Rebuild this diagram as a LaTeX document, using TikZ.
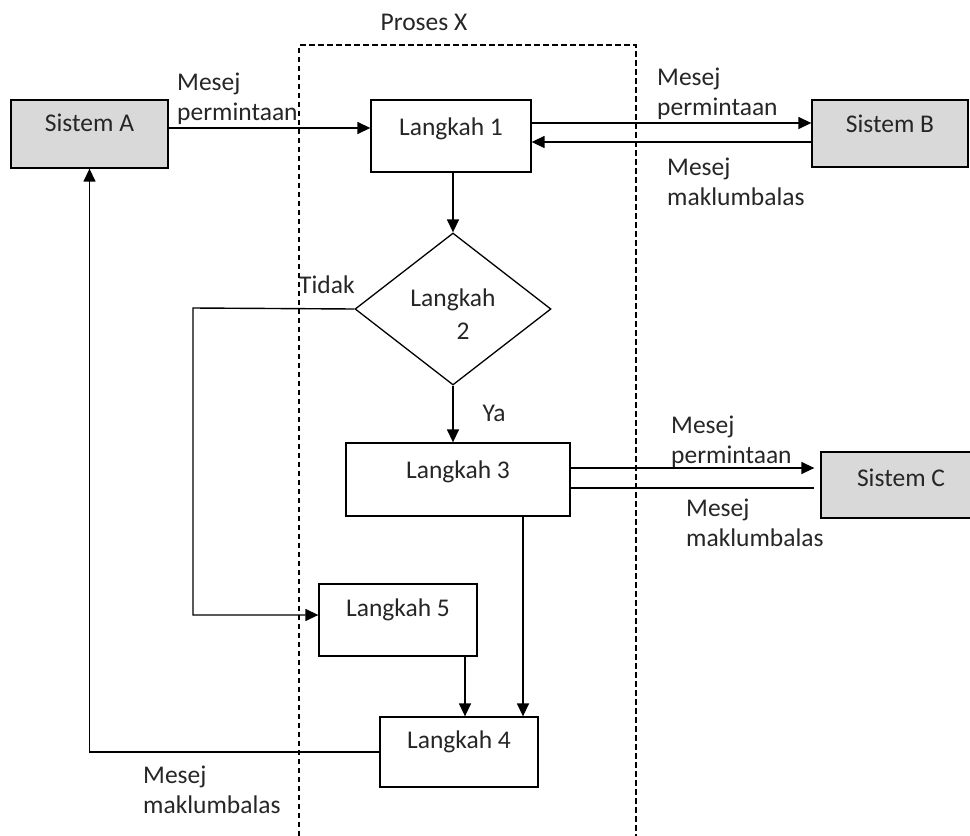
\documentclass[tikz,border=0pt]{standalone}
\usepackage{fontspec}
\setmainfont{Carlito}
\usetikzlibrary{arrows.meta,shapes.geometric,calc}
\definecolor{boxgray}{HTML}{D9D9D9}
\definecolor{ink}{HTML}{262626}

\begin{document}
\begin{tikzpicture}[x=1pt,y=1pt,
  every node/.style={font=\fontsize{25.5}{30.5}\selectfont, text=ink},
  box/.style={draw, line width=1.3pt, rectangle, inner sep=0pt},
  sys/.style={box, fill=boxgray},
  lbl/.style={align=left, anchor=north west, inner sep=0pt},
  conn/.style={line width=1.4pt},
  arr/.style={conn, -{Triangle[length=13pt,width=12pt]}},
  frame/.style={line width=1.2pt, dash pattern=on 5.5pt off 3.5pt},
]
\useasboundingbox (0,0) rectangle (970,-836);

% process boundary, open at the bottom
\draw[frame] (299,-845) -- (299,-45) -- (636,-45) -- (636,-845);
\node[anchor=base, inner sep=0pt] (title) at (424,-30) {Proses X};

% external systems
\node[sys, minimum width=157pt, text height=31pt, text depth=37pt] (sa) at (89.5,-134) {Sistem A};
\node[sys, minimum width=156pt, text height=32pt, text depth=35pt] (sb) at (890,-133.5) {Sistem B};
\node[sys, minimum width=160pt, text height=34pt, text depth=32pt] (sc) at (901,-485) {Sistem C};

% process steps
\node[box, minimum width=160pt, text height=35pt, text depth=37pt] (l1) at (451,-136) {Langkah 1};
\node[draw, diamond, line width=1.3pt, minimum width=196pt, minimum height=152pt,
      inner sep=0pt, align=center] (d2) at (453,-309) {};
\node[align=center, inner sep=0pt, font=\fontsize{25.5}{33}\selectfont] (d2text) at ($(d2.center)+(0,-5)$) {Langkah\\\hspace*{20pt}2};
\node[box, minimum width=224pt, text height=35pt, text depth=38pt] (l3) at (458,-479.5) {Langkah 3};
\node[box, minimum width=158pt, text height=32pt, text depth=40pt] (l5) at (398,-620) {Langkah 5};
\node[box, minimum width=158pt, text height=31pt, text depth=39pt] (l4) at (459,-752) {Langkah 4};

% helper levels for the message lines
\coordinate (ya) at (0,-128);
\coordinate (yb1) at (0,-123);
\coordinate (yb2) at (0,-142);
\coordinate (yc1) at (0,-468);
\coordinate (yc2) at (0,-488);
\coordinate (xv1) at (523,0);
\coordinate (xv2) at (465,0);
\coordinate (tbend) at (193,-308);

% connectors
\draw[arr] (sa.east |- ya) -- (l1.west |- ya);
\draw[arr] (l1.east |- yb1) -- (sb.west |- yb1);
\draw[arr] (sb.west |- yb2) -- (l1.east |- yb2);
\draw[arr] (d2.north |- l1.south) -- (d2.north);
\draw[arr] (d2.west) -- (tbend) |- ($(l5.west)+(0,5)$);
\draw[arr] (d2.south) -- (d2.south |- l3.north);
\draw[arr, shorten >=6pt] (l3.east |- yc1) -- (sc.west |- yc1);
\draw[conn, shorten >=6pt] (l3.east |- yc2) -- (sc.west |- yc2);
\draw[arr] (l3.south -| xv1) -- (l4.north -| xv1);
\draw[arr] (l5.south -| xv2) -- (l4.north -| xv2);
\draw[arr] (l4.west) -| (sa.south);

% connector labels
\node[lbl] (m1) at (177,-68.6) {\strut Mesej\\\strut permintaan};
\node[lbl] (m2) at (657,-63.6) {\strut Mesej\\\strut permintaan};
\node[lbl] (m3) at (667,-153.6) {\strut Mesej\\\strut maklumbalas};
\node[lbl] (m4) at (671,-411.6) {\strut Mesej\\\strut permintaan};
\node[lbl] (m5) at (686,-494.6) {\strut Mesej\\\strut maklumbalas};
\node[lbl] (m6) at (143,-761.6) {\strut Mesej\\\strut maklumbalas};
\node[anchor=base west, inner sep=0pt] (no) at (299,-293) {Tidak};
\node[anchor=base, inner sep=0pt] (yes) at (494,-421) {Ya};
\end{tikzpicture}
\end{document}
